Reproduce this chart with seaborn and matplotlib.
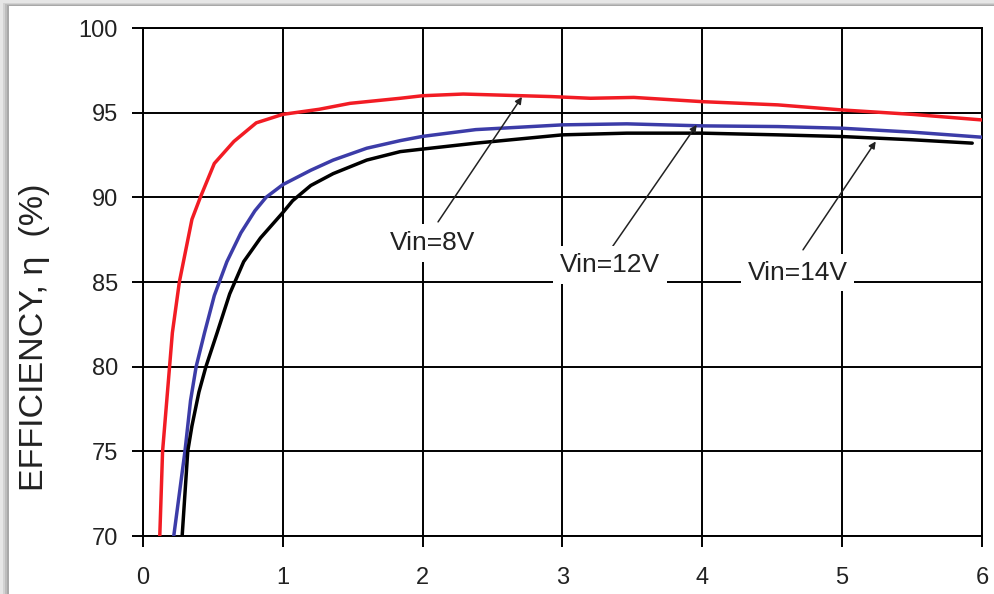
import numpy as np
import pandas as pd
import matplotlib
matplotlib.use("Agg")
import matplotlib.pyplot as plt
from matplotlib.patches import Rectangle
import seaborn as sns

# Data (output current A vs efficiency %)
x_8v = [0.12, 0.14, 0.17, 0.19, 0.21, 0.26, 0.35, 0.41, 0.51, 0.65, 0.81, 1.0, 1.26, 1.48,
        1.84, 2.0, 2.29, 2.92, 3.2, 3.51, 4.0, 4.54, 5.0, 5.5, 6.0]
y_8v = [70, 75, 78, 80, 82, 85, 88.7, 90, 92, 93.3, 94.4, 94.9, 95.2, 95.55,
        95.85, 96.0, 96.1, 95.95, 95.85, 95.9, 95.65, 95.46, 95.16, 94.9, 94.57]

x_12v = [0.22, 0.26, 0.30, 0.34, 0.38, 0.44, 0.51, 0.60, 0.70, 0.80, 0.88, 1.0, 1.2, 1.36,
         1.6, 1.84, 2.0, 2.38, 3.0, 3.46, 4.0, 4.54, 5.0, 5.5, 6.0]
y_12v = [70, 72.5, 75, 78, 80, 82, 84.2, 86.2, 87.9, 89.2, 90, 90.75, 91.6, 92.2,
         92.9, 93.35, 93.6, 94.0, 94.28, 94.34, 94.22, 94.18, 94.08, 93.85, 93.55]

x_14v = [0.28, 0.30, 0.32, 0.35, 0.40, 0.45, 0.53, 0.62, 0.72, 0.84, 1.0, 1.07, 1.2, 1.36,
         1.6, 1.84, 2.0, 2.38, 3.0, 3.46, 4.0, 4.54, 5.0, 5.5, 5.93]
y_14v = [70, 72.5, 75, 76.5, 78.5, 80, 82, 84.3, 86.2, 87.6, 89.1, 89.8, 90.7, 91.4,
         92.2, 92.7, 92.85, 93.2, 93.69, 93.79, 93.79, 93.69, 93.59, 93.4, 93.2]

series_names = ["Vin=8V", "Vin=12V", "Vin=14V"]
series_colors = ["#f21c24", "#3c3ca8", "#000000"]

x_ticks = [0, 1, 2, 3, 4, 5, 6]
y_ticks = [70, 75, 80, 85, 90, 95, 100]
y_label = "EFFICIENCY, \u03b7  (%)"

df = pd.concat([
    pd.DataFrame({"x": x_8v, "y": y_8v, "s": series_names[0]}),
    pd.DataFrame({"x": x_12v, "y": y_12v, "s": series_names[1]}),
    pd.DataFrame({"x": x_14v, "y": y_14v, "s": series_names[2]}),
], ignore_index=True)

sns.set_theme(style="white")
plt.rcParams["font.family"] = ["Liberation Sans", "DejaVu Sans"]

fig = plt.figure(figsize=(9.95, 5.94), dpi=100)
fig.patch.set_facecolor("white")
ax = fig.add_axes([143 / 995, 1 - 536 / 594, (982 - 143) / 995, (536 - 28) / 594])

sns.lineplot(data=df, x="x", y="y", hue="s", palette=dict(zip(series_names, series_colors)),
             sort=False, estimator=None, linewidth=2.5, legend=False, ax=ax, zorder=3)

ax.set_xlim(0, 6)
ax.set_ylim(70, 100)
ax.set_xticks(x_ticks)
ax.set_yticks(y_ticks)
ax.set_xticklabels([str(t) for t in x_ticks], fontsize=17, color="#222222")
ax.set_yticklabels([str(t) for t in y_ticks], fontsize=17, color="#222222")
ax.tick_params(axis="both", direction="out", length=8, width=1.4, color="black",
               bottom=True, left=True)
ax.tick_params(axis="x", pad=14)
ax.tick_params(axis="y", pad=10)
ax.grid(True, color="black", linewidth=1.4, zorder=1)
ax.set_axisbelow(True)
for sp in ax.spines.values():
    sp.set_color("black")
    sp.set_linewidth(1.4)
ax.set_xlabel("")
ax.set_ylabel(y_label, fontsize=24.5, color="#222222", va="center")
ax.yaxis.set_label_coords(-0.129, 0.392)

bbox = dict(boxstyle="square,pad=0.25", fc="white", ec="none")
arrow = dict(arrowstyle="-|>", color="#222222", lw=1.1, mutation_scale=10, shrinkA=0, shrinkB=0)
ann = [
    ("Vin=8V", (2.71, 95.93), (2.07, 87.3), (2.11, 88.55)),
    ("Vin=12V", (3.96, 94.28), (3.34, 86.0), (3.35, 87.0)),
    ("Vin=14V", (5.24, 93.3), (4.68, 85.55), (4.72, 86.9)),
]
for label, head, txt, tail in ann:
    ax.annotate("", xy=head, xytext=tail, arrowprops=arrow, zorder=4)
    ax.text(txt[0], txt[1], label, fontsize=19, color="#222222", ha="center", va="center",
            bbox=bbox, zorder=5)

# grey shadow frame at top and left edges
for i, c in enumerate(["#a8a8a8", "#bdbdbd", "#d2d2d2", "#e6e6e6"]):
    fig.patches.append(Rectangle((0, 1 - (6 - i) / 594), 1, (6 - i) / 594, transform=fig.transFigure,
                                 fc=c, ec="none", zorder=-1 + i))
    fig.patches.append(Rectangle((0, 0), (9 - 2 * i) / 995, 1, transform=fig.transFigure,
                                 fc=c, ec="none", zorder=-1 + i))

fig.savefig("out.png", dpi=100, facecolor=fig.get_facecolor())
